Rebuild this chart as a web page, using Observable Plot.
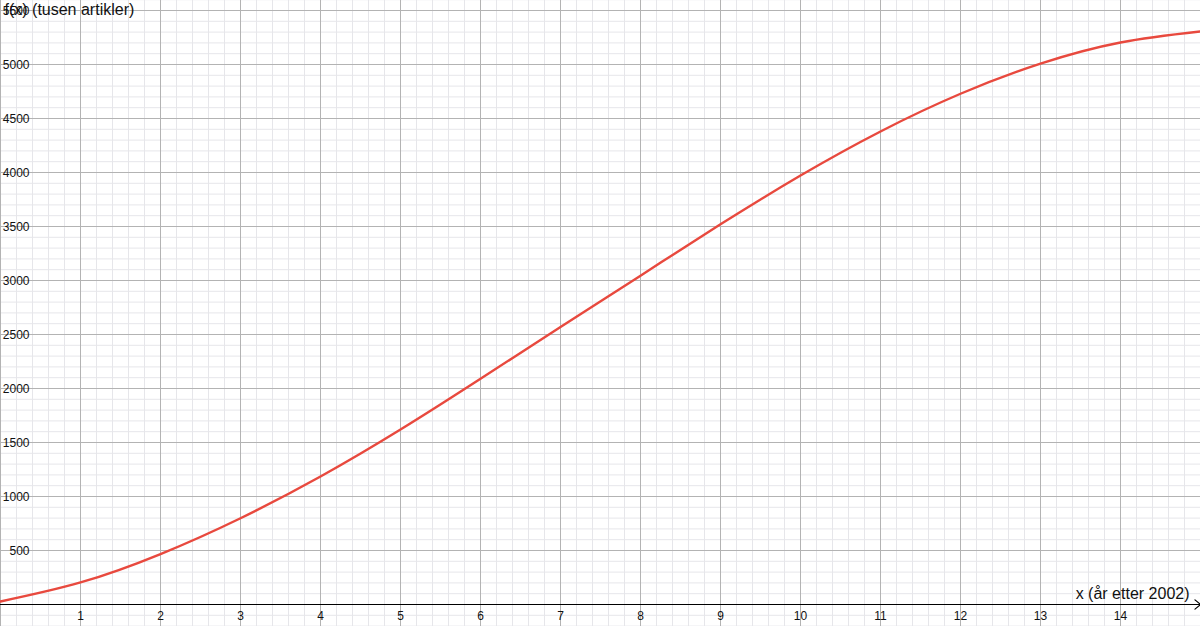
<!DOCTYPE html>
<html>
<head>
<meta charset="utf-8">
<script src="https://cdn.jsdelivr.net/npm/d3@7"></script>
<script src="https://cdn.jsdelivr.net/npm/@observablehq/plot@0.6"></script>
<style>
  html, body { margin: 0; padding: 0; background: #fff; }
  #chart svg { display: block; }
</style>
</head>
<body>
<div id="chart"></div>
<script>
// Data: f(x) in thousand articles, x = years after 2002
const years = [0, 1, 2, 3, 4, 5, 6, 7, 8, 9, 10, 11, 12, 13, 14, 15];
const articles = [28, 204, 467, 799, 1185, 1620, 2090, 2570, 3045, 3520, 3972, 4380, 4729, 5008, 5204, 5306];

// Tick labels
const xTicks = [1, 2, 3, 4, 5, 6, 7, 8, 9, 10, 11, 12, 13, 14];
const yTicks = [500, 1000, 1500, 2000, 2500, 3000, 3500, 4000, 4500, 5000, 5500];

// Axis titles
const yTitle = "f(x) (tusen artikler)";
const xTitle = "x (år etter 2002)";

const data = years.map((x, i) => ({x, y: articles[i]}));
const xMinor = d3.range(0, 15.01, 0.2);
const yMinor = d3.range(-200, 5601, 100);
const xMajor = d3.range(0, 16, 1);
const yMajor = d3.range(0, 5501, 500);

const font = "'Liberation Sans', Arial, Helvetica, sans-serif";

const chart = Plot.plot({
  width: 1200,
  height: 626,
  marginTop: 0, marginRight: 0, marginBottom: 0, marginLeft: 0,
  style: {fontFamily: font, background: "#fff", overflow: "visible"},
  x: {domain: [0, 15], range: [0, 1200], axis: null},
  y: {domain: [0, 5500], range: [604, 10], axis: null},
  marks: [
    Plot.ruleX(xMinor, {stroke: "#e6e6ea", strokeWidth: 1}),
    Plot.ruleY(yMinor, {stroke: "#e6e6ea", strokeWidth: 1}),
    Plot.ruleX(xMajor, {stroke: "#b3b3b3", strokeWidth: 1}),
    Plot.ruleY(yMajor, {stroke: "#b3b3b3", strokeWidth: 1}),
    Plot.arrow([0], {x1: () => 0, x2: () => 15, y1: () => 0, y2: () => 0,
      stroke: "#000", strokeWidth: 1.2, headLength: 9, headAngle: 80}),
    Plot.text(yTicks, {x: () => 0, y: d => d, text: d => String(d), dx: 29, dy: 1,
      textAnchor: "end", lineAnchor: "middle", fontSize: 12, fill: "#111"}),
    Plot.text(xTicks, {x: d => d, y: () => 0, text: d => String(d), dy: 12,
      textAnchor: "middle", lineAnchor: "middle", fontSize: 12, fill: "#111"}),
    Plot.line(data, {x: "x", y: "y", stroke: "#e8493e", strokeWidth: 2.4, curve: "natural"}),
    Plot.text([yTitle], {frameAnchor: "top-left", dx: 4, dy: 3, textAnchor: "start",
      lineAnchor: "top", fontSize: 16, fill: "#111"}),
    Plot.text([xTitle], {x: () => 15, y: () => 0, dx: -11, dy: -6, textAnchor: "end",
      lineAnchor: "bottom", fontSize: 16, fill: "#111"})
  ]
});
document.getElementById("chart").appendChild(chart);
</script>
</body>
</html>
